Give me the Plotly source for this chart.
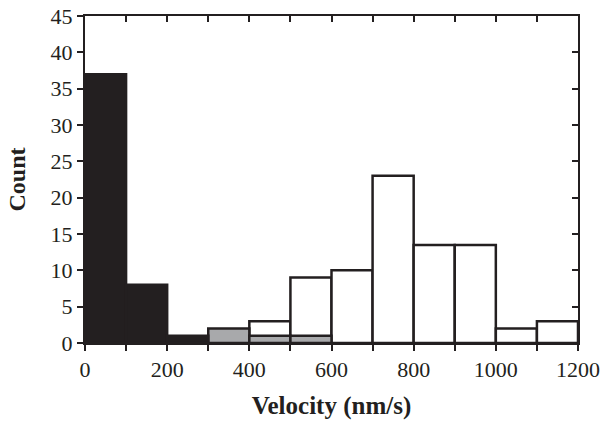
import plotly.graph_objects as go

bin_starts = [0, 100, 200, 300, 400, 500, 600, 700, 800, 900, 1000, 1100]
black_counts = [37, 8, 1, 0, 0, 0, 0, 0, 0, 0, 0, 0]
gray_counts = [0, 0, 0, 2, 1, 1, 0, 0, 0, 0, 0, 0]
white_counts = [0, 0, 0, 0, 3, 9, 10, 23, 13.5, 13.5, 2, 3]
x_tick_vals = [0, 200, 400, 600, 800, 1000, 1200]
y_tick_vals = [0, 5, 10, 15, 20, 25, 30, 35, 40, 45]

BIN_W = 100
centers = [s + BIN_W / 2 for s in bin_starts]

def series(counts):
    xs = [c for c, v in zip(centers, counts) if v > 0]
    ys = [v for v in counts if v > 0]
    return xs, ys

fig = go.Figure()
for counts, color in [(white_counts, "white"), (gray_counts, "#a8a9ab"), (black_counts, "#231f20")]:
    xs, ys = series(counts)
    fig.add_trace(go.Bar(x=xs, y=ys, width=BIN_W, marker=dict(color=color, line=dict(color="#231f20", width=2.5)),
                         showlegend=False, hoverinfo="skip"))

# invisible trace for mirrored axes with inside ticks
fig.add_trace(go.Scatter(x=[0], y=[0], xaxis="x2", yaxis="y2", mode="markers",
                         marker=dict(opacity=0), showlegend=False, hoverinfo="skip"))

font = dict(family="Liberation Serif, Times New Roman, serif", size=22, color="#231f20")
axis_common = dict(showline=True, linecolor="#231f20", linewidth=2, showgrid=False, zeroline=False,
                   tickcolor="#231f20", tickwidth=2, ticklen=6, automargin=False)

fig.update_layout(
    width=604, height=430,
    margin=dict(l=85, r=26, t=16, b=87),
    paper_bgcolor="white", plot_bgcolor="white",
    barmode="overlay",
    font=font,
    xaxis=dict(range=[0, 1200], tickvals=x_tick_vals, ticks="outside", ticklabeloverflow="allow",
               minor=dict(dtick=100, ticks="outside", ticklen=6, tickwidth=2, tickcolor="#231f20"),
               title=dict(text="<b>Velocity (nm/s)</b>", font=dict(size=25), standoff=15),
               **axis_common),
    yaxis=dict(range=[0, 45], tickvals=y_tick_vals, ticks="outside", ticklabeloverflow="allow",
               title=dict(text="<b>Count</b>", font=dict(size=24), standoff=18),
               **axis_common),
    xaxis2=dict(range=[0, 1200], overlaying="x", side="top", anchor="y2", dtick=100, ticks="inside",
                showticklabels=False, **axis_common),
    yaxis2=dict(range=[0, 45], overlaying="y", side="right", anchor="x2", dtick=5, ticks="inside",
                showticklabels=False, **axis_common),
)

fig.write_html("out.html", config={"displayModeBar": False},
               post_script="document.body.style.margin='0';")
